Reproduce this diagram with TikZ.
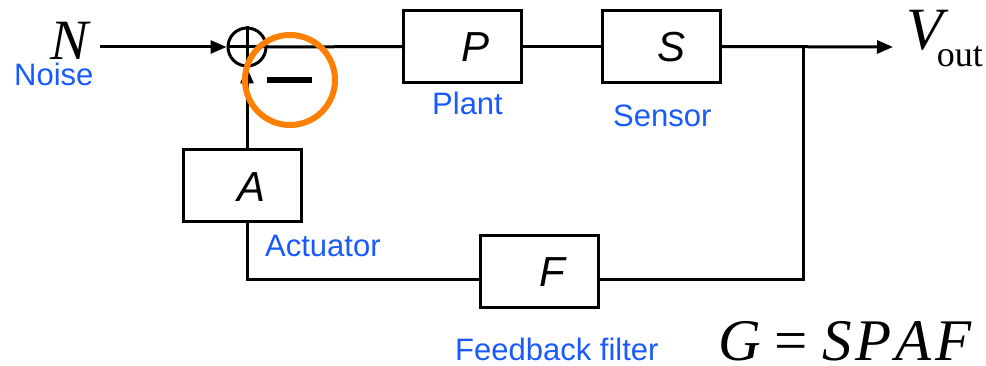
\documentclass[tikz,border=0pt]{standalone}
\usepackage{fontspec}
\setmainfont{Liberation Serif}
\newfontfamily\lsans{Liberation Sans}
\usetikzlibrary{arrows.meta}
\definecolor{lblblue}{RGB}{25,90,255}
\definecolor{hlorange}{RGB}{255,128,0}
\begin{document}
\begin{tikzpicture}[x=1pt,y=-1pt,
  blk/.style={draw, line width=3pt, minimum width=118pt, minimum height=72pt, inner sep=0pt},
  wire/.style={line width=3pt},
  arr/.style={wire, -{Triangle[length=16pt,width=13pt]}},
  lbl/.style={text=lblblue, font=\lsans\fontsize{31}{31}\selectfont, inner sep=0pt, anchor=base west},
  sym/.style={font=\lsans\itshape\fontsize{42}{42}\selectfont, inner sep=0pt},
  serif/.style={inner sep=0pt, anchor=base west}]
\useasboundingbox (0,0) rectangle (986,366);
% blocks
\node[blk] (P) at (462.5,46.5) {};
\node[blk] (S) at (661,46.5) {};
\node[blk] (A) at (242.5,185.5) {};
\node[blk] (F) at (539.5,271.5) {};
\node[sym] (Pt) at (476,47) {P};
\node[sym] (St) at (672,47) {S};
\node[sym] (At) at (252,187) {A};
\node[sym] (Ft) at (552,272) {F};
% summing junction
\node[circle, draw, line width=3pt, minimum size=38pt, inner sep=0pt] (sum) at (247,47) {};
\draw[wire] (sum.north) -- (sum.south);
\draw[wire] (sum.west) -- (sum.east);
% labels
\node[serif, font=\itshape\fontsize{57}{57}\selectfont] (N) at (50,60) {N};
\node[lbl] (noise) at (14,86) {Noise};
\node[lbl] (plant) at (432,115) {Plant};
\node[lbl] (sensor) at (613,127) {Sensor};
\node[lbl] (act) at (265,257) {Actuator};
\node[lbl] (fbf) at (455,360) {Feedback filter};
\node[serif] (Vout) at (906,50) {\fontsize{60}{60}\selectfont\itshape V\kern-6pt\raisebox{-17pt}{\upshape\fontsize{36}{36}\selectfont out}};
\node[serif] (G) at (718,360) {\fontsize{59}{59}\selectfont\itshape G\kern14pt\upshape=\kern14pt\itshape S\kern4pt P\kern4pt A\kern4pt F};
% coordinates
\coordinate (nin) at (100,47);
\coordinate (out) at (893,47);
\coordinate (br) at (803,47);
\coordinate (brd) at (803,280);
\coordinate (bl) at (247,280);
% wires
\draw[arr] (nin) -- (sum.west);
\draw[wire] (sum.east) -- (P.west);
\draw[wire] (P.east) -- (S.west);
\draw[arr] (S.east) -- (out);
\draw[wire, line join=miter] (br) -- (brd) -- (brd -| F.east);
\draw[wire, line join=miter] (bl -| F.west) -- (bl) -- (bl |- A.south);
\draw[arr] (sum |- A.north) -- (sum.south);
% highlight
\node[fill, minimum width=45pt, minimum height=6pt, inner sep=0pt] (minus) at (289.5,80) {};
\node[circle, draw=hlorange, line width=6pt, minimum size=90pt, inner sep=0pt] (hl) at (290,80) {};
\end{tikzpicture}
\end{document}
